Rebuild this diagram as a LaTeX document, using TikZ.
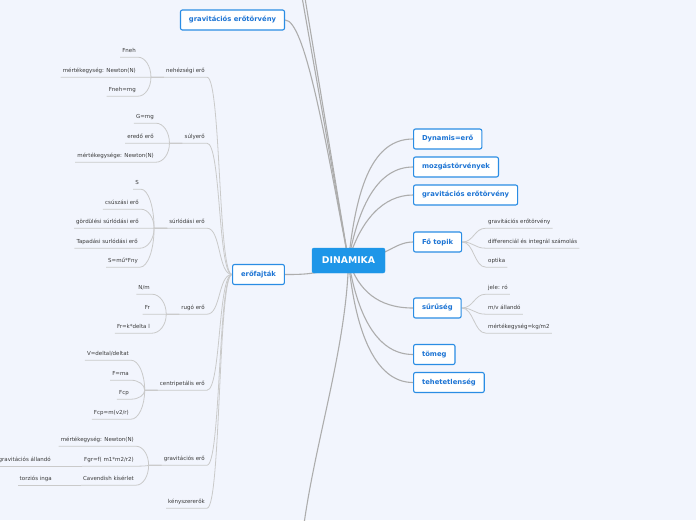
\documentclass[tikz,border=0pt]{standalone}
\usepackage{fontspec}
\setmainfont{DejaVu Sans}
\usepackage{xcolor}
\usepackage{tikz}
\usetikzlibrary{calc,backgrounds}
\definecolor{MapBlue}{HTML}{2A8DE4}
\definecolor{MapText}{HTML}{1C74D4}
\definecolor{MapRoot}{HTML}{1E96E8}
\definecolor{MapPaper}{HTML}{F2F5FD}
\definecolor{MapLine}{HTML}{ADADAD}
\definecolor{MapTwig}{HTML}{CACACA}
\definecolor{MapLeaf}{HTML}{3A3A3A}
\tikzset{
  mmroot/.style={
    fill=MapRoot,
    draw=MapRoot,
    text=white,
    rounded corners=2pt,
    minimum width=73pt,
    minimum height=25pt,
    font=\fontsize{9.3}{10}\selectfont\bfseries
  },
  mmtopic/.style={
    draw=MapBlue,
    fill=white,
    line width=1.1pt,
    rounded corners=2pt,
    text=MapText,
    minimum height=20pt,
    inner xsep=8.5pt,
    font=\fontsize{6.8}{8}\selectfont\bfseries
  },
  mmleaf/.style={
    text=MapLeaf,
    inner xsep=2pt,
    inner ysep=3.3pt,
    text height=4.2pt,
    text depth=1.2pt,
    font=\fontsize{5.5}{6}\selectfont
  },
  mmbranch/.style={draw=MapLine, line width=1.1pt},
  mmtwig/.style={draw=MapTwig, line width=0.8pt}
}

\begin{document}
\begin{tikzpicture}[x=1pt, y=-1pt]
  \useasboundingbox (0,0) rectangle (696,520);

  \node[mmroot] (dinamika) at (348.5,260.5) {DINAMIKA};

  % right side
  \node[mmtopic, anchor=west] (dynamis) at (413,139) {Dynamis=erő};
  \node[mmtopic, anchor=west] (mozgas) at (413,167) {mozgástörvények};
  \node[mmtopic, anchor=west] (gravjobb) at (413,195) {gravitációs erőtörvény};
  \node[mmtopic, anchor=west] (fotopik) at (413,242) {Fő topik};
  \node[mmtopic, anchor=west] (suruseg) at (413,308) {sűrűség};
  \node[mmtopic, anchor=west] (tomeg) at (413,354.5) {tömeg};
  \node[mmtopic, anchor=west] (tehet) at (413,382.5) {tehetetlenség};

  \node[mmleaf, anchor=west] (fograv) at (486,222) {gravitációs erőtörvény};
  \node[mmleaf, anchor=west] (fodiff) at (486,242) {differenciál és integrál számolás};
  \node[mmleaf, anchor=west] (foopt) at (486,261) {optika};
  \node[mmleaf, anchor=west] (jele) at (486,288) {jele: ró};
  \node[mmleaf, anchor=west] (mv) at (486,308) {m/v állandó};
  \node[mmleaf, anchor=west] (kgm) at (486,327) {mértékegység=kg/m2};

  % left side
  \node[mmtopic] (gravbal) at (232.5,20) {gravitációs erőtörvény};
  \node[mmtopic] (erofajtak) at (258.5,274.5) {erőfajták};

  \node[mmleaf, anchor=east] (nehez) at (207,71) {nehézségi erő};
  \node[mmleaf, anchor=east] (suly) at (207,137) {súlyerő};
  \node[mmleaf, anchor=east] (surl) at (207,222) {súrlódási erő};
  \node[mmleaf, anchor=east] (rugo) at (207,308) {rugó erő};
  \node[mmleaf, anchor=east] (centr) at (207,384) {centripetális erő};
  \node[mmleaf, anchor=east] (gravero) at (207,459) {gravitációs erő};
  \node[mmleaf, anchor=east] (kenyszer) at (207,502) {kényszererők};

  \node[mmleaf, anchor=east] (fneh) at (138,51) {Fneh};
  \node[mmleaf, anchor=east] (mnewta) at (138,71) {mértékegység: Newton(N)};
  \node[mmleaf, anchor=east] (fnehmg) at (138,90) {Fneh=mg};

  \node[mmleaf, anchor=east] (gmg) at (156,117) {G=mg};
  \node[mmleaf, anchor=east] (eredo) at (156,137) {eredő erő};
  \node[mmleaf, anchor=east] (mnewtb) at (156,156) {mértékegysége: Newton(N)};

  \node[mmleaf, anchor=east] (sbetu) at (141,183) {S};
  \node[mmleaf, anchor=east] (csusz) at (141,203) {csúszási erő};
  \node[mmleaf, anchor=east] (gord) at (141,222) {gördülési súrlódási erő};
  \node[mmleaf, anchor=east] (tapad) at (140,242) {Tapadási surlódási erő};
  \node[mmleaf, anchor=east] (smu) at (140,261) {S=mű*Fny};

  \node[mmleaf, anchor=east] (nperm) at (152,288) {N/m};
  \node[mmleaf, anchor=east] (fr) at (152,308) {Fr};
  \node[mmleaf, anchor=east] (frk) at (152,327) {Fr=k*delta l};

  \node[mmleaf, anchor=east] (vdelta) at (131,354) {V=deltal/deltat};
  \node[mmleaf, anchor=east] (fma) at (131,374) {F=ma};
  \node[mmleaf, anchor=east] (fcp) at (131,393) {Fcp};
  \node[mmleaf, anchor=east] (fcpm) at (131,413) {Fcp=m(v2/r)};

  \node[mmleaf, anchor=east] (mnewtc) at (136,440) {mértékegység: Newton(N)};
  \node[mmleaf, anchor=east] (fgr) at (136,460) {Fgr=f( m1*m2/r2)};
  \node[mmleaf, anchor=east] (caven) at (136,479) {Cavendish kísérlet};
  \node[mmleaf, anchor=east] (gall) at (53,460) {gravitációs állandó};
  \node[mmleaf, anchor=east] (torz) at (54,479) {torziós inga};

  \foreach \c in {nehez,suly,surl,rugo,centr,gravero}
    \coordinate (j\c) at ($(\c.south west)+(-13,0)$);

  % branches running off the page
  \coordinate (fenta) at (299,-20);
  \coordinate (fentb) at (302,-20);
  \coordinate (lent) at (302,540);

  \begin{scope}[on background layer]
    \fill[MapPaper] (0,0) rectangle (696,520);

    \draw[mmbranch] (dinamika.center) -- (fenta);
    \draw[mmbranch] (dinamika.center) -- (fentb);
    \draw[mmbranch] (dinamika.center) .. controls +(-2,90) and +(10,-90) .. (lent);
    \draw[mmbranch] (gravbal.east) .. controls +(20,0) and +(-23,-120) .. (dinamika.center);
    \draw[mmbranch] (dinamika.center) .. controls +(-25,14) and +(20,0) .. (erofajtak.east);

    \draw[mmbranch] (dinamika.center) .. controls +(8,-75) and +(-40,0) .. (dynamis.west);
    \draw[mmbranch] (dinamika.center) .. controls +(10,-55) and +(-35,0) .. (mozgas.west);
    \draw[mmbranch] (dinamika.center) .. controls +(12,-40) and +(-30,0) .. (gravjobb.west);
    \draw[mmbranch] (dinamika.center) .. controls +(35,0) and +(-20,0) .. (fotopik.west);
    \draw[mmbranch] (dinamika.center) .. controls +(10,30) and +(-35,0) .. (suruseg.west);
    \draw[mmbranch] (dinamika.center) .. controls +(8,50) and +(-38,0) .. (tomeg.west);
    \draw[mmbranch] (dinamika.center) .. controls +(6,65) and +(-40,0) .. (tehet.west);

    \foreach \b/\l in {fotopik/fograv, fotopik/fodiff, fotopik/foopt,
                       suruseg/jele, suruseg/mv, suruseg/kgm}
      \draw[mmtwig] (\b.east) .. controls +(12,0) and +(-12,0) .. (\l.south west) -- (\l.south east);

    \foreach \c in {nehez,suly,surl,rugo,centr,gravero,kenyszer}
      \draw[mmtwig] (erofajtak.west) .. controls +(-14,0) and +(14,0) .. (\c.south east) -- (\c.south west);

    \foreach \p/\l in {nehez/fneh, nehez/mnewta, nehez/fnehmg,
                       suly/gmg, suly/eredo, suly/mnewtb,
                       surl/sbetu, surl/csusz, surl/gord, surl/tapad, surl/smu,
                       rugo/nperm, rugo/fr, rugo/frk,
                       centr/vdelta, centr/fma, centr/fcp, centr/fcpm,
                       gravero/mnewtc, gravero/fgr, gravero/caven}
      \draw[mmtwig] (\p.south west) -- (j\p)
        .. controls ($(j\p)!.55!(j\p|-\l.south east)$) and ($(\l.south east)!.55!(\l.south east-|j\p)$)
        .. (\l.south east) -- (\l.south west);

    \draw[mmtwig] (fgr.south west) -- (gall.south east) -- (gall.south west);
    \draw[mmtwig] (caven.south west) -- (torz.south east) -- (torz.south west);
  \end{scope}
\end{tikzpicture}
\end{document}
